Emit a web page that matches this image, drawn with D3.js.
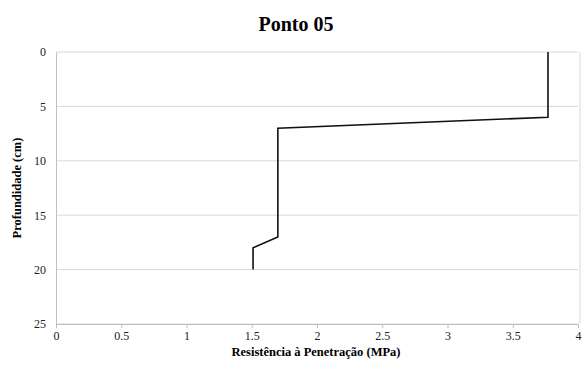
<!DOCTYPE html>
<html><head><meta charset="utf-8">
<script src="https://cdn.jsdelivr.net/npm/d3@7"></script>
<style>body{margin:0;background:#fff}svg{display:block}text{font-family:'Liberation Serif','Times New Roman',serif}</style>
</head><body>
<script>
const resistance = [3.77, 3.77, 1.70, 1.70, 1.51, 1.51];
const depth = [0, 6, 7, 17, 18, 20];
const xTicks = [0, 0.5, 1, 1.5, 2, 2.5, 3, 3.5, 4];
const yTicks = [0, 5, 10, 15, 20, 25];
const title = "Ponto 05";
const xTitle = "Resistência à Penetração (MPa)";
const yTitle = "Profundidade (cm)";

const W = 585, H = 367;
const m = {left: 56, right: 7, top: 52, bottom: 43};
const svg = d3.select("body").append("svg").attr("width", W).attr("height", H);
const font = "'Liberation Serif','Times New Roman',serif";

const x = d3.scaleLinear().domain([0, 4]).range([m.left, W - m.right]);
const y = d3.scaleLinear().domain([0, 25]).range([m.top, H - m.bottom]);

// gridlines
svg.append("g").selectAll("line").data(yTicks).join("line")
  .attr("x1", m.left).attr("x2", W - m.right)
  .attr("y1", d => y(d)).attr("y2", d => y(d))
  .attr("stroke", "#d9d9d9").attr("stroke-width", 1);

// right border
svg.append("line").attr("x1", W - m.right + 2).attr("x2", W - m.right + 2)
  .attr("y1", m.top).attr("y2", H - m.bottom)
  .attr("stroke", "#d9d9d9");

// y axis
const ya = svg.append("g").attr("transform", `translate(${m.left},0)`)
  .call(d3.axisLeft(y).tickValues(yTicks).tickSize(0).tickPadding(10).tickFormat(d3.format("d")));
ya.attr("font-family", null);
ya.select(".domain").attr("stroke", "#bfbfbf");
ya.selectAll("text").style("font-family", font).style("font-size", "12px").attr("fill", "#222");

// x axis
const xa = svg.append("g").attr("transform", `translate(0,${H - m.bottom})`)
  .call(d3.axisBottom(x).tickValues(xTicks).tickSize(4).tickPadding(3).tickFormat(d => String(d)));
xa.attr("font-family", null);
xa.select(".domain").attr("stroke", "#bfbfbf");
xa.selectAll(".tick line").attr("stroke", "#bfbfbf");
xa.selectAll("text").style("font-family", font).style("font-size", "12px").attr("fill", "#222");

// line
const pts = resistance.map((r, i) => [r, depth[i]]);
svg.append("path").datum(pts)
  .attr("d", d3.line().x(d => x(d[0])).y(d => y(d[1])))
  .attr("fill", "none").attr("stroke", "#111").attr("stroke-width", 1.6);

// titles
svg.append("text").attr("x", 296).attr("y", 31).attr("text-anchor", "middle")
  .style("font-family", font).attr("font-weight", "bold").style("font-size", "20px").text(title);
svg.append("text").attr("x", 316).attr("y", 356).attr("text-anchor", "middle")
  .style("font-family", font).attr("font-weight", "bold").style("font-size", "12.5px").text(xTitle);
svg.append("text").attr("transform", `translate(21,${(m.top + H - m.bottom) / 2}) rotate(-90)`)
  .attr("text-anchor", "middle")
  .style("font-family", font).attr("font-weight", "bold").style("font-size", "12.5px").text(yTitle);
</script>
</body></html>
